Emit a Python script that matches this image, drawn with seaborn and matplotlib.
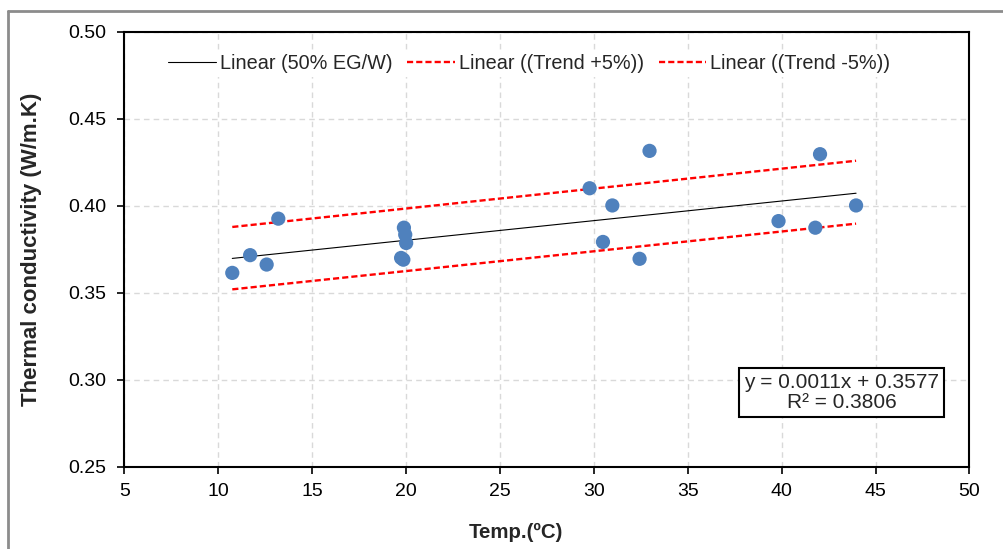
import numpy as np
import pandas as pd
import matplotlib
matplotlib.use("Agg")
import matplotlib.pyplot as plt
import seaborn as sns
from matplotlib.lines import Line2D

# ---- data ----
temp = [10.74, 11.69, 12.57, 13.19, 19.73, 19.85, 19.88, 19.95, 20.0,
        29.77, 30.48, 30.98, 32.43, 32.96, 39.83, 41.79, 42.04, 43.96]
conductivity = [0.3614, 0.3716, 0.3662, 0.3926, 0.3700, 0.3690, 0.3874, 0.3834, 0.3786,
                0.4101, 0.3792, 0.4002, 0.3695, 0.4316, 0.3912, 0.3874, 0.4297, 0.4002]
legend_labels = ["Linear (50% EG/W)", "Linear ((Trend +5%))", "Linear ((Trend -5%))"]
trend_slopes = [0.001129, 0.001147, 0.001138]
trend_intercepts = [0.3576, 0.3755, 0.3397]
equation_text = "y = 0.0011x + 0.3577\nR² = 0.3806"
xticks = [5, 10, 15, 20, 25, 30, 35, 40, 45, 50]
yticks = [0.25, 0.30, 0.35, 0.40, 0.45, 0.50]

sns.set_theme(style="white")
plt.rcParams['font.family'] = ['Liberation Sans', 'DejaVu Sans']

df = pd.DataFrame({"T": temp, "k": conductivity})
xs = np.array([min(temp), max(temp)])
rows = []
for lab, m, b in zip(legend_labels, trend_slopes, trend_intercepts):
    for x in xs:
        rows.append({"T": x, "k": m * x + b, "series": lab})
lines = pd.DataFrame(rows)

fig = plt.figure(figsize=(10.04, 5.49), dpi=100)
ax = fig.add_axes([124.5 / 1004, 1 - 466.5 / 549, (969.5 - 124.5) / 1004, (466.5 - 32) / 549])

ax.grid(True, color="#D9D9D9", linestyle=(0, (4, 3)), linewidth=1.0)
ax.set_axisbelow(True)

dash = (0, (2.6, 1.3))
sns.lineplot(data=lines[lines.series == legend_labels[0]], x="T", y="k", ax=ax,
             color="black", linewidth=0.8, legend=False, zorder=3)
for lab in legend_labels[1:]:
    sns.lineplot(data=lines[lines.series == lab], x="T", y="k", ax=ax,
                 color="#FF0000", linewidth=1.7, legend=False, zorder=3)
for ln in ax.lines[1:]:
    ln.set_linestyle(dash)

sns.scatterplot(data=df, x="T", y="k", ax=ax, color="#4F81BD", s=105,
                edgecolor="none", zorder=4, legend=False)

ax.set_xlim(5, 50)
ax.set_ylim(0.25, 0.50)
ax.set_xticks(xticks)
ax.set_yticks(yticks)
ax.set_yticklabels([f"{v:.2f}" for v in yticks])
ax.tick_params(axis="both", direction="out", length=5, width=1.2, color="black",
               labelsize=14, labelcolor="black", bottom=True, left=True)
ax.tick_params(axis="y", pad=8)
ax.tick_params(axis="x", pad=7)
for s in ax.spines.values():
    s.set_visible(True)
    s.set_color("black")
    s.set_linewidth(1.5)

ax.set_xlabel("Temp.(ºC)", fontsize=14.7, fontweight="bold")
ax.set_ylabel("Thermal conductivity (W/m.K)", fontsize=16, fontweight="bold")
ax.xaxis.set_label_coords((516.3 - 124.5) / 845, (466.5 - 532) / 434.5)
ax.xaxis.label.set_va("center")
ax.yaxis.set_label_coords((32 - 124.5) / 845, (466.5 - 249) / 434.5)
ax.yaxis.label.set_va("center")

handles = [Line2D([], [], color="black", linewidth=0.8),
           Line2D([], [], color="#FF0000", linewidth=1.7, linestyle=dash),
           Line2D([], [], color="#FF0000", linewidth=1.7, linestyle=dash)]
leg = ax.legend(handles, legend_labels, ncol=3, loc="center",
                bbox_to_anchor=(0.479, 0.928), frameon=True, fontsize=14.3,
                handlelength=2.4, handletextpad=0.2, columnspacing=0.75,
                borderpad=0.2)
leg.get_frame().set_edgecolor("none")
leg.get_frame().set_facecolor("white")
leg.get_frame().set_alpha(1)

ax.text(0.8485, 0.170, equation_text, transform=ax.transAxes, ha="center", va="center",
        fontsize=15, linespacing=1.05,
        bbox=dict(boxstyle="square,pad=0.25", facecolor="white", edgecolor="black", linewidth=1.5))

# outer chart-area border (top and left visible)
fig.add_artist(Line2D([8 / 1004, 8 / 1004], [0, 1 - 11 / 549], transform=fig.transFigure,
                      color="#8C8C8C", linewidth=2))
fig.add_artist(Line2D([8 / 1004, 1], [1 - 11 / 549, 1 - 11 / 549], transform=fig.transFigure,
                      color="#8C8C8C", linewidth=2))

fig.savefig("out.png", dpi=100, facecolor="white")
